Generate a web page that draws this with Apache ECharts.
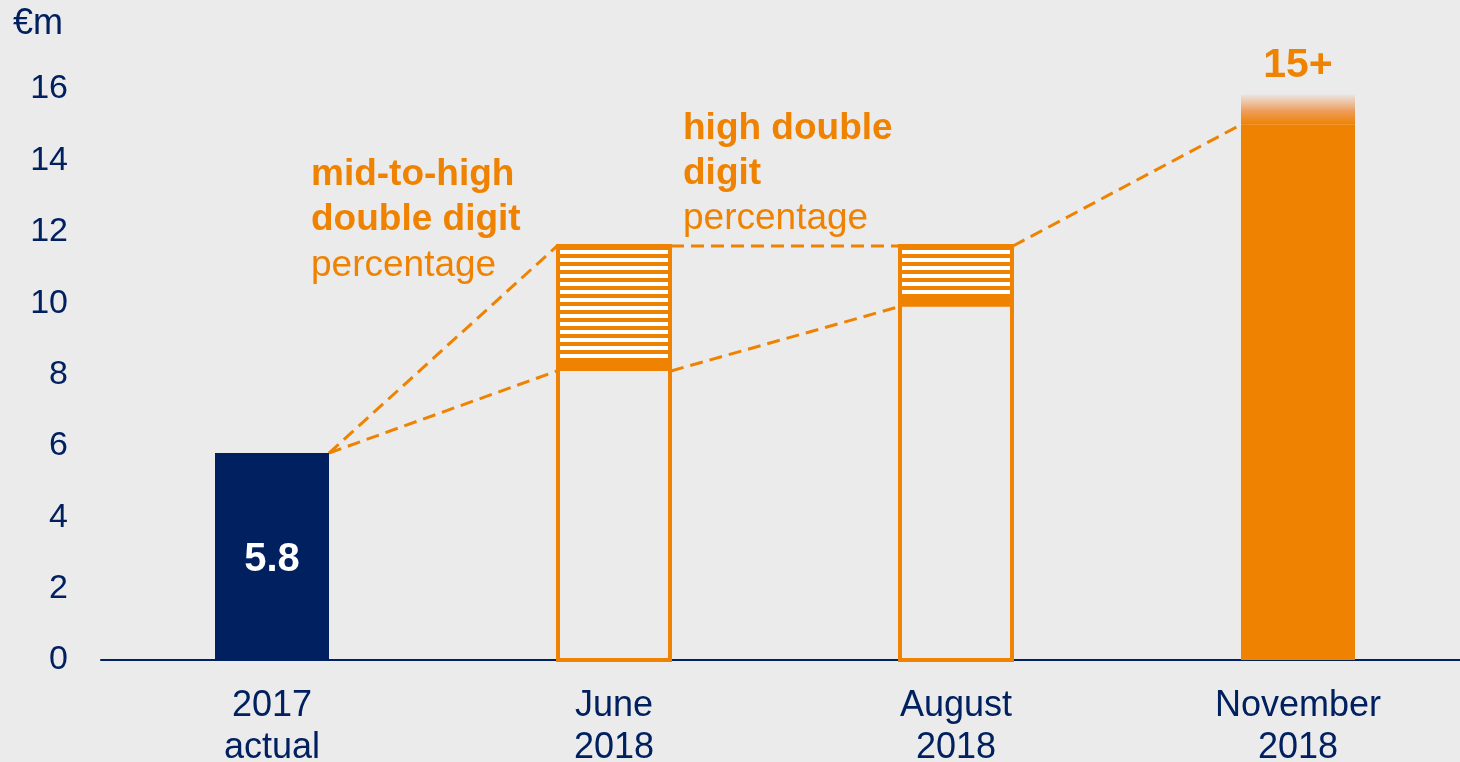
<!DOCTYPE html>
<html><head><meta charset="utf-8">
<script src="https://cdn.jsdelivr.net/npm/echarts@6/dist/echarts.min.js"></script>
<style>html,body{margin:0;padding:0;background:#ebebeb}#c{width:1460px;height:762px}</style>
</head><body><div id="c"></div>
<script>
// ---- data ----
const categories = ['2017\nactual', 'June\n2018', 'August\n2018', 'November\n2018'];
const actual2017 = [5.8, null, null, null];
const rangeLow = [null, 8.1, 9.9, null];
const rangeHigh = [null, 11.6, 11.6, null];
const november = [null, null, null, 15];
const novemberUpside = [null, null, null, 0.85];
const novemberLabel = '15+';
const unitLabel = '€m';
const annotation1 = ['mid-to-high', 'double digit', 'percentage'];
const annotation2 = ['high double', 'digit', 'percentage'];
// connectors: [fromCategory, fromValue, toCategory, toValue]
const connectors = [
  [0, actual2017[0], 1, rangeHigh[1]],
  [0, actual2017[0], 1, rangeLow[1]],
  [1, rangeHigh[1], 2, rangeHigh[2]],
  [1, rangeLow[1], 2, rangeLow[2]],
  [2, rangeHigh[2], 3, november[3]]
];

const NAVY = '#002060';
const ORANGE = '#ef8200';
const BG = '#ebebeb';
const FONT = "'Liberation Sans', Arial, sans-serif";
const BAR_W = 114;

const hatchData = [];
rangeLow.forEach((v, i) => { if (v != null) hatchData.push([i, v, rangeHigh[i]]); });

const chart = echarts.init(document.getElementById('c'));
chart.setOption({
  backgroundColor: BG,
  animation: false,
  grid: { left: 101, top: 89, width: 1368, height: 571, outerBoundsMode: 'none', containLabel: false },
  xAxis: {
    type: 'category', data: categories,
    axisLine: { lineStyle: { color: NAVY, width: 2 } },
    axisTick: { show: false },
    axisLabel: { color: NAVY, fontSize: 36, lineHeight: 42, margin: 25, fontFamily: FONT }
  },
  yAxis: {
    type: 'value', min: 0, max: 16, interval: 2,
    splitLine: { show: false },
    axisLine: { show: false }, axisTick: { show: false },
    axisLabel: { color: NAVY, fontSize: 34, margin: 33, fontFamily: FONT }
  },
  graphic: [
    { type: 'text', left: 13, top: 6, style: { text: unitLabel, fill: NAVY, font: '36px ' + FONT } },
    { type: 'text', x: 311, y: 175, style: { text: annotation1[0], fill: ORANGE, font: 'bold 37px ' + FONT, verticalAlign: 'middle' } },
    { type: 'text', x: 311, y: 220, style: { text: annotation1[1], fill: ORANGE, font: 'bold 37px ' + FONT, verticalAlign: 'middle' } },
    { type: 'text', x: 311, y: 266, style: { text: annotation1[2], fill: ORANGE, font: '37px ' + FONT, verticalAlign: 'middle' } },
    { type: 'text', x: 683, y: 129, style: { text: annotation2[0], fill: ORANGE, font: 'bold 37px ' + FONT, verticalAlign: 'middle' } },
    { type: 'text', x: 683, y: 174, style: { text: annotation2[1], fill: ORANGE, font: 'bold 37px ' + FONT, verticalAlign: 'middle' } },
    { type: 'text', x: 683, y: 219, style: { text: annotation2[2], fill: ORANGE, font: '37px ' + FONT, verticalAlign: 'middle' } }
  ],
  series: [
    {
      type: 'custom', z: 1,
      data: connectors,
      renderItem: function (params, api) {
        const p1 = api.coord([api.value(0), api.value(1)]);
        const p2 = api.coord([api.value(2), api.value(3)]);
        return {
          type: 'line',
          shape: { x1: p1[0] + BAR_W / 2, y1: p1[1], x2: p2[0] - BAR_W / 2, y2: p2[1] },
          style: { stroke: ORANGE, lineWidth: 3, lineDash: [13, 7], fill: null }
        };
      }
    },
    {
      type: 'bar', stack: 'a', barWidth: BAR_W, data: actual2017, z: 3,
      itemStyle: { color: NAVY },
      label: { show: true, position: 'inside', color: '#fff', fontSize: 40, fontWeight: 'bold', fontFamily: FONT, offset: [0, 3] }
    },
    {
      type: 'bar', stack: 'a', barWidth: BAR_W, data: november, z: 3,
      itemStyle: { color: ORANGE }
    },
    {
      type: 'bar', stack: 'a', barWidth: BAR_W, data: novemberUpside, z: 3,
      itemStyle: {
        color: { type: 'linear', x: 0, y: 0, x2: 0, y2: 1, colorStops: [
          { offset: 0, color: '#ebe6e4' }, { offset: 0.55, color: '#ee9d5c' }, { offset: 1, color: ORANGE }] }
      },
      label: { show: true, position: 'top', distance: 8, formatter: () => novemberLabel, color: ORANGE, fontSize: 41, fontWeight: 'bold', fontFamily: FONT }
    },
    {
      type: 'custom', z: 4,
      data: hatchData,
      renderItem: function (params, api) {
        const cx = api.coord([api.value(0), 0])[0];
        const y0 = api.coord([api.value(0), 0])[1];
        const yLow = api.coord([api.value(0), api.value(1)])[1];
        const yTop = api.coord([api.value(0), api.value(2)])[1];
        const half = BAR_W / 2;
        const children = [];
        children.push({ type: 'rect', shape: { x: cx - half + 1, y: yTop, width: BAR_W - 2, height: yLow - yTop }, style: { fill: ORANGE } });
        for (let y = yTop + 4; y + 4 <= yLow - 7; y += 8) {
          children.push({ type: 'rect', shape: { x: cx - half + 3, y: y, width: BAR_W - 6, height: 4 }, style: { fill: '#ffffff' } });
        }
        children.push({ type: 'rect', shape: { x: cx - half + 1, y: yTop, width: BAR_W - 2, height: y0 - yTop }, style: { fill: null, stroke: ORANGE, lineWidth: 4 } });
        return { type: 'group', children: children };
      }
    }
  ]
});
</script></body></html>
